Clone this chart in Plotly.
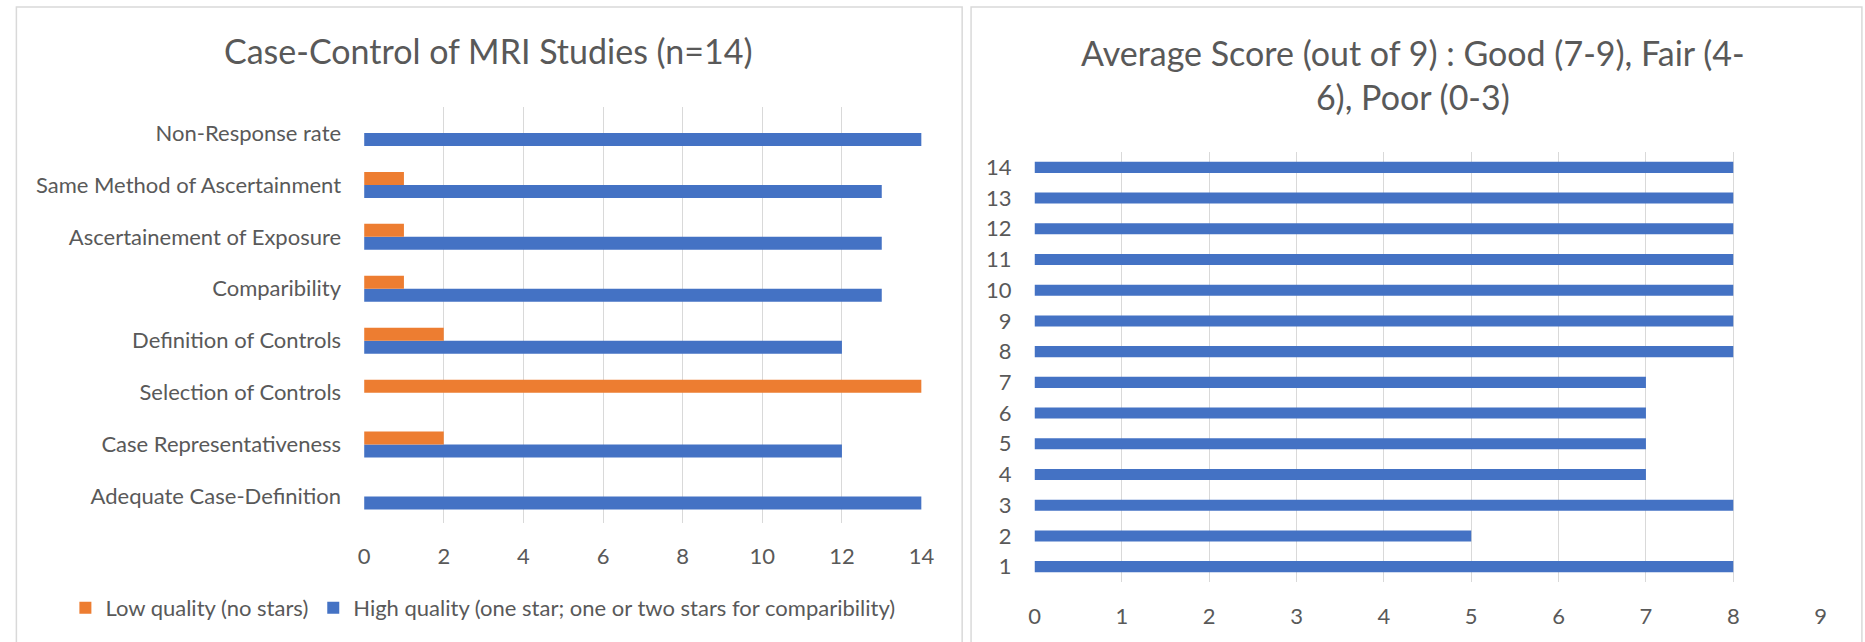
import plotly.graph_objects as go

# ---------------- data ----------------
criteria = [
    "Adequate Case-Definition",
    "Case Representativeness",
    "Selection of Controls",
    "Definition of Controls",
    "Comparibility",
    "Ascertainement of Exposure",
    "Same Method of Ascertainment",
    "Non-Response rate",
]
low_quality = [0, 2, 14, 2, 1, 1, 1, 0]
high_quality = [14, 12, 0, 12, 13, 13, 13, 14]

study_ids = list(range(1, 15))
avg_scores = [8, 5, 8, 7, 7, 7, 7, 8, 8, 8, 8, 8, 8, 8]

left_x_ticks = [0, 2, 4, 6, 8, 10, 12, 14]
right_x_ticks = [0, 1, 2, 3, 4, 5, 6, 7, 8, 9]

title_left = "Case-Control of MRI Studies (n=14)"
title_right = "Average Score (out of 9) : Good (7-9), Fair (4-<br>6), Poor (0-3)"
name_low = "Low quality (no stars)"
name_high = "High quality (one star; one or two stars for comparibility)"

# ---------------- style ----------------
W, H = 1865, 642
BLUE = "#4472C4"
ORANGE = "#ED7D31"
GRID = "#D9D9D9"
TXT = "#595959"
FONT = "Lato"
TICK = 22
TITLE = 34


def px(x):
    return x / W


def py(y):
    return 1 - y / H


fig = go.Figure()

# left chart (horizontal grouped bars)
fig.add_trace(go.Bar(
    y=criteria, x=high_quality, orientation="h", name=name_high,
    marker=dict(color=BLUE, line=dict(width=0)),
    width=0.25, offset=-0.25, xaxis="x", yaxis="y",
))
fig.add_trace(go.Bar(
    y=criteria, x=low_quality, orientation="h", name=name_low,
    marker=dict(color=ORANGE, line=dict(width=0)),
    width=0.25, offset=0.0, xaxis="x", yaxis="y",
))

# right chart
fig.add_trace(go.Bar(
    y=study_ids, x=avg_scores, orientation="h", name="Average score",
    marker=dict(color=BLUE, line=dict(width=0)),
    width=0.36, showlegend=False, xaxis="x2", yaxis="y2",
))

fig.update_layout(
    width=W, height=H,
    margin=dict(l=0, r=0, t=0, b=0),
    paper_bgcolor="white", plot_bgcolor="white",
    barmode="overlay",
    font=dict(family=FONT, color=TXT, size=TICK),
    showlegend=True,
    legend=dict(
        orientation="h", traceorder="reversed",
        x=px(60), y=py(608), xanchor="left", yanchor="middle",
        font=dict(size=TICK, color=TXT), bgcolor="rgba(0,0,0,0)",
        itemwidth=30,
    ),
    xaxis=dict(
        domain=[px(361.8), px(925)], range=[0, 14],
        tickvals=left_x_ticks, showgrid=True, gridcolor=GRID, gridwidth=1.3,
        zeroline=False, showline=False, ticks="", ticklabelstandoff=18,
        anchor="y",
    ),
    yaxis=dict(
        domain=[py(522.5), py(107)], type="category",
        categoryorder="array", categoryarray=criteria, range=[-0.5, 7.5],
        showgrid=False, zeroline=False, showline=False, ticks="",
        ticklabelstandoff=22, anchor="x",
    ),
    xaxis2=dict(
        domain=[px(1039.1), px(1833.3)], range=[0, 9],
        tickvals=right_x_ticks, showgrid=True, gridcolor=GRID, gridwidth=1.3,
        zeroline=False, showline=False, ticks="", ticklabelstandoff=19,
        anchor="y2",
    ),
    yaxis2=dict(
        domain=[py(582), py(152)], range=[0.5, 14.5],
        tickvals=study_ids, showgrid=False, zeroline=False, showline=False,
        ticks="", ticklabelstandoff=22, anchor="x2",
    ),
    shapes=[
        dict(type="rect", xref="paper", yref="paper",
             x0=px(10.5), x1=px(966), y0=py(648), y1=py(7),
             line=dict(color=GRID, width=1.5), fillcolor="rgba(0,0,0,0)"),
        dict(type="rect", xref="paper", yref="paper",
             x0=px(975), x1=px(1875), y0=py(648), y1=py(7),
             line=dict(color=GRID, width=1.5), fillcolor="rgba(0,0,0,0)"),
    ],
    annotations=[
        dict(text=title_left, xref="paper", yref="paper",
             x=px(487.5), y=py(51), xanchor="center", yanchor="middle",
             showarrow=False, font=dict(size=TITLE, color=TXT, family=FONT)),
        dict(text=title_right, xref="paper", yref="paper",
             x=px(1421.5), y=py(75), xanchor="center", yanchor="middle",
             showarrow=False, font=dict(size=TITLE, color=TXT, family=FONT)),
    ],
)

fig.write_html("out.html")
